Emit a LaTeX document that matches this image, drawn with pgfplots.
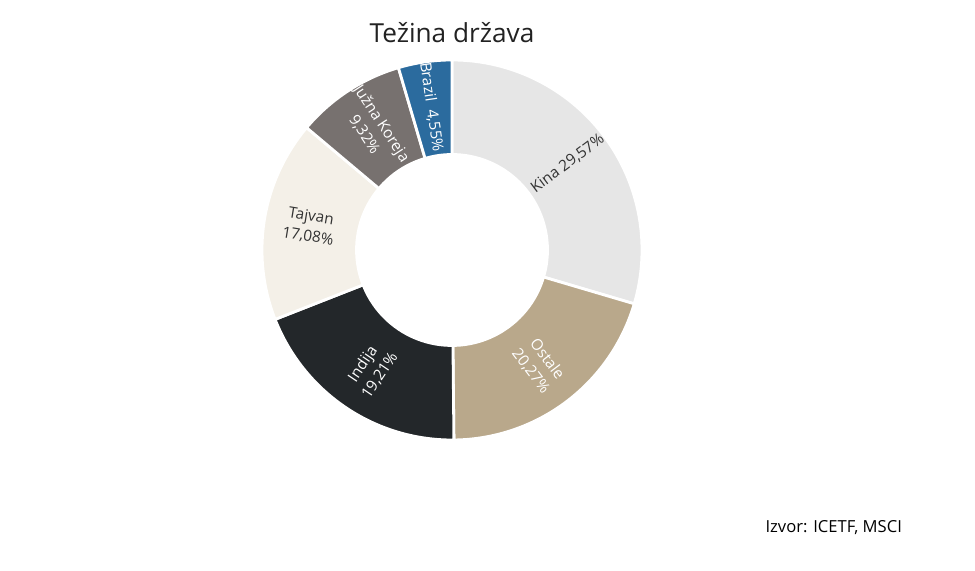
\documentclass[border=0pt]{standalone}
\usepackage{pgfplots}
\pgfplotsset{compat=1.18}
\usepackage{fontspec}
\setmainfont{Open Sans}
\definecolor{cKina}{HTML}{E6E6E6}
\definecolor{cOstale}{HTML}{B9A88B}
\definecolor{cIndija}{HTML}{23272A}
\definecolor{cTajvan}{HTML}{F4F0E8}
\definecolor{cKoreja}{HTML}{77716F}
\definecolor{cBrazil}{HTML}{2B6B9E}
\definecolor{darktext}{HTML}{333333}
\definecolor{titletext}{HTML}{222222}
\newcommand\lblfont{\fontsize{7.7}{10.2}\selectfont}
% #1 cumulative start (%), #2 value (%), #3 fill, #4 text colour, #5 label
\newcommand\slice[5]{%
  \pgfmathsetmacro\aS{90-3.6*#1}%
  \pgfmathsetmacro\aE{90-3.6*(#1+#2)}%
  \pgfmathsetmacro\aM{(\aS+\aE)/2}%
  \pgfmathsetmacro\rot{cos(\aM)>=0 ? \aM : \aM+180}%
  \pgfmathsetmacro\lx{0.76*cos(\aM)}%
  \pgfmathsetmacro\ly{0.76*sin(\aM)}%
  \edef\doslice{%
    \noexpand\addplot[fill=#3, draw=white, line width=1.4pt, line join=round,
      domain=\aE:\aS, samples=90, variable=\noexpand\t]
      ({cos(\noexpand\t)},{sin(\noexpand\t)}) -- (axis cs:0,0) -- cycle;
    \noexpand\node[text=#4, rotate=\rot, align=center, font=\noexpand\lblfont, inner sep=0pt]
      at (axis cs:\lx,\ly) {\unexpanded{#5}};
  }\doslice
}
\begin{document}
\begin{tikzpicture}
\useasboundingbox (0,0) rectangle (487.5pt,285.5pt);
\begin{axis}[
  at={(226pt,160.5pt)}, anchor=origin,
  scale only axis, width=190pt, height=190pt,
  xmin=-1, xmax=1, ymin=-1, ymax=1,
  hide axis, clip=false,
]
\slice{0}{29.57}{cKina}{darktext}{Kina 29,57\%}
\slice{29.57}{20.27}{cOstale}{white}{Ostale\\20,27\%}
\slice{49.84}{19.21}{cIndija}{white}{Indija\\19,21\%}
\slice{69.05}{17.08}{cTajvan}{darktext}{Tajvan\\17,08\%}
\slice{86.13}{9.32}{cKoreja}{white}{Južna Koreja\\9,32\%}
\slice{95.45}{4.55}{cBrazil}{white}{Brazil\ \ 4,55\%}
\addplot[fill=white, draw=none, domain=0:360, samples=120, variable=\t]
  ({0.51*cos(\t)},{0.51*sin(\t)});
\end{axis}
\node[text=titletext, font=\fontsize{13.1}{15}\selectfont] at (226pt,269pt) {Težina država};
\node[anchor=east, text=black, font=\fontsize{8.3}{9}\selectfont] at (454.5pt,21.5pt) {Izvor: ICETF, MSCI};
\end{tikzpicture}
\end{document}
